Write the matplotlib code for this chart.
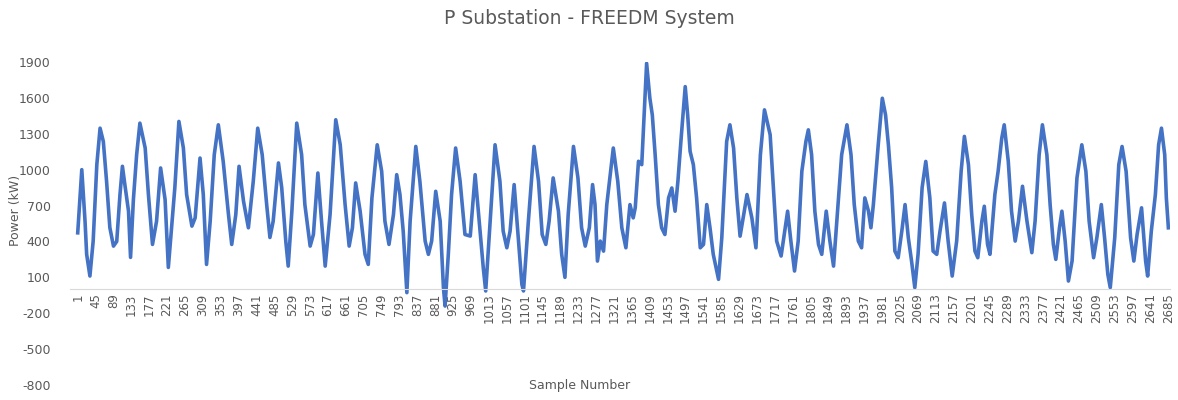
import matplotlib
matplotlib.use("Agg")
from matplotlib import pyplot as plt

# Substation active power, read at turning points along the record
sample = [1, 11, 19, 23, 31, 39, 48, 56, 64, 72, 80, 89, 97, 105, 111, 117, 126, 131, 138, 146,
          154, 167, 175, 185, 195, 205, 216, 224, 232, 240, 250, 261, 269, 282, 290, 302, 310, 318,
          327, 337, 347, 359, 372, 380, 390, 398, 409, 421, 433, 444, 455, 466, 474, 482, 495, 503,
          513, 519, 528, 540, 552, 560, 573, 581, 592, 601, 610, 622, 636, 647, 659, 669, 677, 685,
          696, 708, 716, 725, 738, 749, 757, 767, 778, 786, 794, 802, 811, 819, 833, 843, 856, 864,
          872, 882, 893, 901, 905, 913, 921, 931, 942, 954, 967, 979, 989, 999, 1005, 1016, 1028,
          1040, 1048, 1057, 1065, 1075, 1085, 1094, 1098, 1110, 1124, 1135, 1144, 1153, 1161, 1171,
          1184, 1192, 1200, 1208, 1221, 1232, 1241, 1250, 1260, 1268, 1274, 1280, 1287, 1295, 1303,
          1319, 1330, 1340, 1350, 1360, 1368, 1373, 1381, 1389, 1401, 1409, 1415, 1422, 1430, 1438,
          1446, 1455, 1463, 1471, 1478, 1486, 1496, 1502, 1508, 1516, 1524, 1533, 1541, 1549, 1557,
          1565, 1578, 1586, 1598, 1606, 1615, 1623, 1631, 1640, 1648, 1660, 1670, 1681, 1691, 1705,
          1713, 1721, 1732, 1742, 1748, 1756, 1765, 1774, 1783, 1793, 1799, 1807, 1815, 1824, 1832,
          1843, 1852, 1861, 1869, 1881, 1894, 1904, 1912, 1922, 1930, 1938, 1947, 1953, 1959, 1971,
          1981, 1989, 1996, 2004, 2012, 2020, 2029, 2037, 2045, 2053, 2061, 2069, 2079, 2088, 2098,
          2106, 2115, 2123, 2134, 2143, 2153, 2164, 2175, 2183, 2193, 2201, 2209, 2216, 2226, 2232,
          2240, 2246, 2258, 2266, 2275, 2281, 2291, 2299, 2308, 2316, 2326, 2337, 2349, 2357, 2367,
          2375, 2386, 2394, 2402, 2408, 2417, 2423, 2431, 2439, 2448, 2460, 2472, 2482, 2490, 2501,
          2509, 2520, 2528, 2536, 2542, 2553, 2563, 2571, 2581, 2592, 2600, 2608, 2619, 2629, 2634,
          2643, 2653, 2661, 2668, 2676, 2680, 2685]
power = [472, 1000, 569, 292, 111, 402, 1042, 1347, 1236, 903, 517, 361, 400, 792, 1028, 875, 653,
         267, 750, 1125, 1389, 1181, 792, 375, 569, 1014, 750, 183, 517, 850, 1403, 1181, 792, 528,
         597, 1097, 792, 208, 569, 1125, 1375, 1070, 625, 375, 625, 1028, 736, 514, 903, 1347, 1125,
         708, 433, 569, 1056, 850, 403, 194, 653, 1389, 1125, 708, 361, 458, 972, 569, 194, 625, 1417,
         1208, 708, 361, 514, 889, 653, 292, 208, 764, 1208, 986, 569, 375, 625, 958, 792, 486, -28,
         569, 1194, 903, 403, 292, 403, 819, 569, 14, -140, 292, 792, 1181, 903, 458, 445, 958, 569,
         181, -14, 569, 1208, 903, 486, 347, 486, 875, 431, 42, -14, 569, 1194, 903, 458, 375, 569,
         931, 653, 292, 100, 625, 1194, 931, 514, 361, 514, 875, 708, 236, 403, 319, 708, 1181, 903,
         514, 347, 708, 597, 681, 1070, 1042, 1889, 1597, 1458, 1125, 708, 514, 458, 764, 847, 653,
         903, 1264, 1694, 1458, 1153, 1042, 764, 347, 375, 708, 514, 292, 83, 431, 1236, 1375, 1181,
         764, 444, 625, 792, 597, 347, 1125, 1500, 1292, 850, 403, 278, 514, 653, 403, 153, 403, 986,
         1236, 1333, 1125, 653, 375, 292, 653, 403, 194, 569, 1125, 1375, 1125, 708, 403, 347, 764,
         653, 514, 708, 1208, 1597, 1458, 1208, 850, 319, 264, 486, 708, 431, 236, 14, 292, 850, 1069,
         764, 319, 292, 486, 722, 403, 111, 403, 986, 1278, 1042, 625, 319, 264, 569, 694, 375, 292,
         792, 986, 1264, 1375, 1070, 653, 403, 569, 861, 569, 306, 569, 1125, 1375, 1125, 708, 375,
         250, 514, 653, 403, 69, 236, 931, 1208, 986, 569, 264, 431, 708, 431, 125, 14, 431, 1042,
         1194, 986, 431, 236, 458, 681, 236, 111, 486, 792, 1208, 1347, 1125, 764, 514]

x_ticks = list(range(1, 2686, 44))
y_ticks = list(range(-800, 1901, 300))

text_grey = '#595959'

fig = plt.figure(figsize=(11.78, 4.0), dpi=100)
ax = fig.add_axes([70 / 1178, 15 / 400, 1100 / 1178, 323 / 400])

# category axis crosses at zero, as in the spreadsheet chart
# (set before the ticks: moving a spine resets tick styling)
ax.spines['bottom'].set_position(('data', 0))
ax.spines['bottom'].set_color('#D9D9D9')
for side in ['top', 'right', 'left']:
    ax.spines[side].set_visible(False)

ax.plot(sample, power, color='#4472C4', linewidth=2.6, solid_joinstyle='round')

ax.set_ylim(-800, 1900)
ax.set_xlim(-18, 2689)
ax.set_yticks(y_ticks)
ax.set_yticklabels([str(v) for v in y_ticks], color=text_grey, fontsize=9)
ax.set_xticks(x_ticks)
ax.set_xticklabels([str(v) for v in x_ticks], rotation=90, color=text_grey, fontsize=8.5)
ax.tick_params(axis='both', length=0)
ax.tick_params(axis='y', pad=14)
ax.tick_params(axis='x', pad=3)

fig.text(0.5, 1 - 18 / 400, 'P Substation - FREEDM System', ha='center', va='center',
         fontsize=13.5, color=text_grey)
fig.text(15 / 1178, 1 - 210 / 400, 'Power (kW)', ha='center', va='center', rotation=90,
         fontsize=9, color=text_grey)
fig.text(580 / 1178, 1 - 386 / 400, 'Sample Number', ha='center', va='center',
         fontsize=9, color=text_grey)

fig.savefig('out.png', dpi=100)
